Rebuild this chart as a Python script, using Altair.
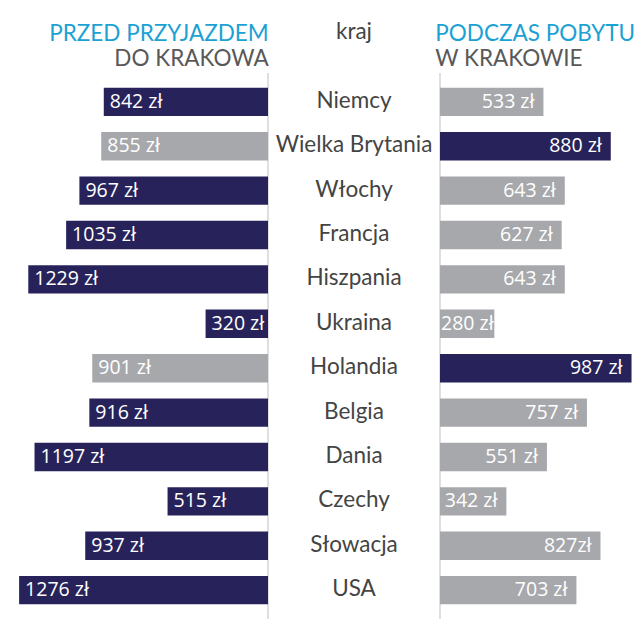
import altair as alt
import pandas as pd

countries = ["Niemcy", "Wielka Brytania", "Włochy", "Francja", "Hiszpania", "Ukraina",
             "Holandia", "Belgia", "Dania", "Czechy", "Słowacja", "USA"]
before = [842, 855, 967, 1035, 1229, 320, 901, 916, 1197, 515, 937, 1276]
during = [533, 880, 643, 627, 643, 280, 987, 757, 551, 342, 827, 703]
before_labels = ["842 zł", "855 zł", "967 zł", "1035 zł", "1229 zł", "320 zł",
                 "901 zł", "916 zł", "1197 zł", "515 zł", "937 zł", "1276 zł"]
during_labels = ["533 zł", "880 zł", "643 zł", "627 zł", "643 zł", "280 zł",
                 "987 zł", "757 zł", "551 zł", "342 zł", "827zł", "703 zł"]
highlight = ["Wielka Brytania", "Holandia"]

df = pd.DataFrame({"country": countries, "before": before, "during": during,
                   "bl": before_labels, "dl": during_labels})
df["hl"] = df["country"].isin(highlight)

NAVY = "#27235a"
GRAY = "#a7a8ab"
BLUE = "#1ba1d3"
DARK = "#595959"
H = 546
VAL_FONT = "Open Sans"
VAL_SIZE = 19.5
TSIZE = 22.5

yenc = alt.Y("country:N", sort=countries, axis=None,
             scale=alt.Scale(type="band", paddingInner=0.36, paddingOuter=0.33))
base = alt.Chart(df)
zero = alt.Chart(pd.DataFrame({"v": [0]}))


def title(text, sub, anchor, dx=0):
    return alt.TitleParams(text=text, anchor=anchor, color=BLUE, fontSize=TSIZE,
                           font="Lato", fontWeight="normal", offset=1.5, dx=dx,
                           subtitle=sub, subtitleColor=DARK, subtitleFontSize=TSIZE,
                           subtitleFont="Lato", subtitlePadding=3)


xl = alt.X("before:Q", scale=alt.Scale(domain=[0, 1374], reverse=True, nice=False), axis=None)
left_bars = base.mark_bar().encode(
    x=xl, y=yenc,
    color=alt.condition("datum.hl", alt.value(GRAY), alt.value(NAVY)))
left_text = base.mark_text(align="left", dx=6, color="white", font=VAL_FONT,
                           fontSize=VAL_SIZE).encode(x=xl, y=yenc, text="bl:N")
left_rule = zero.mark_rule(color="#d4d4d4", strokeWidth=1.5).encode(
    x=alt.X("v:Q", scale=alt.Scale(domain=[0, 1374], reverse=True, nice=False), axis=None))
left = alt.layer(left_rule, left_bars, left_text).properties(
    width=268, height=H, title=title("PRZED PRZYJAZDEM", "DO KRAKOWA", "end"))

mid = base.mark_text(font="Lato", fontSize=TSIZE, color="#444444", dy=-1).encode(
    y=yenc, x=alt.value(86), text="country:N").properties(
    width=172, height=H,
    title=alt.TitleParams("kraj", anchor="middle", color="#444444", fontSize=TSIZE,
                          font="Lato", fontWeight="normal", offset=30))

xr = alt.X("during:Q", scale=alt.Scale(domain=[0, 1010], nice=False), axis=None)
right_bars = base.mark_bar().encode(
    x=xr, y=yenc,
    color=alt.condition("datum.hl", alt.value(NAVY), alt.value(GRAY)))
right_text = base.transform_filter("datum.during >= 300").mark_text(
    align="right", dx=-9, color="white", font=VAL_FONT, fontSize=VAL_SIZE
).encode(x=xr, y=yenc, text="dl:N")
right_text_short = base.transform_filter("datum.during < 300").mark_text(
    align="left", dx=1, color="white", font=VAL_FONT, fontSize=VAL_SIZE
).encode(x=alt.X("zero:Q", scale=alt.Scale(domain=[0, 1010], nice=False), axis=None),
         y=yenc, text="dl:N").transform_calculate(zero="0")
right_rule = zero.mark_rule(color="#d4d4d4", strokeWidth=1.5).encode(
    x=alt.X("v:Q", scale=alt.Scale(domain=[0, 1010], nice=False), axis=None))
right = alt.layer(right_rule, right_bars, right_text, right_text_short).properties(
    width=196, height=H, title=title("PODCZAS POBYTU", "W KRAKOWIE", "start", dx=-4))

chart = alt.hconcat(left, mid, right, spacing=0, bounds="flush").properties(
    padding={"left": 0, "right": 0, "top": 20, "bottom": 0}
).configure_view(stroke=None)

chart.save("out.html", embed_options={"renderer": "svg", "actions": False})
